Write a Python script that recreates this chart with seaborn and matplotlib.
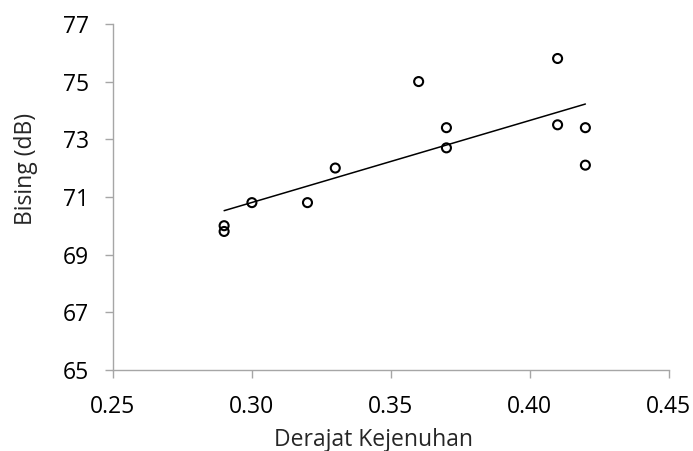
import pandas as pd
import matplotlib.pyplot as plt
import seaborn as sns

# data
derajat_kejenuhan = [0.29, 0.29, 0.30, 0.32, 0.33, 0.36, 0.37, 0.37, 0.41, 0.41, 0.42, 0.42]
bising_db = [70.0, 69.8, 70.8, 70.8, 72.0, 75.0, 73.4, 72.7, 75.8, 73.5, 73.4, 72.1]
x_ticks = [0.25, 0.30, 0.35, 0.40, 0.45]
y_ticks = [65, 67, 69, 71, 73, 75, 77]

df = pd.DataFrame({'x': derajat_kejenuhan, 'y': bising_db})

sns.set_style('white')
plt.rcParams['font.family'] = ['Open Sans', 'DejaVu Sans']

fig = plt.figure(figsize=(6.93, 4.51), dpi=100)
ax = fig.add_axes([0.163, 0.180, 0.802, 0.767])

# garis tren linear, tanpa pita kepercayaan
sns.regplot(data=df, x='x', y='y', ax=ax, scatter=False, ci=None, truncate=True,
            line_kws={'color': 'black', 'linewidth': 1.1})
sns.scatterplot(data=df, x='x', y='y', ax=ax, s=42, marker='o',
                facecolor='none', edgecolor='black', linewidth=1.5, zorder=3)

ax.set_xlim(0.25, 0.45)
ax.set_ylim(65, 77)
ax.set_xticks(x_ticks)
ax.set_xticklabels([f'{v:.2f}' for v in x_ticks])
ax.set_yticks(y_ticks)

ax.set_xlabel('Derajat Kejenuhan', fontsize=16.5)
ax.set_ylabel('Bising (dB)', fontsize=16.5)
ax.xaxis.set_label_coords(0.469, -0.168)
ax.yaxis.set_label_coords(-0.135, 0.58)

for side in ['top', 'right']:
    ax.spines[side].set_visible(False)
for side in ['left', 'bottom']:
    ax.spines[side].set_color('#a6a6a6')
    ax.spines[side].set_linewidth(1.0)

ax.tick_params(axis='both', direction='out', length=6, width=1, color='#a6a6a6',
               labelsize=16.5, labelcolor='black', bottom=True, left=True)
ax.tick_params(axis='x', pad=12)
ax.tick_params(axis='y', pad=11)
ax.grid(False)

fig.savefig('out.png', dpi=100)
